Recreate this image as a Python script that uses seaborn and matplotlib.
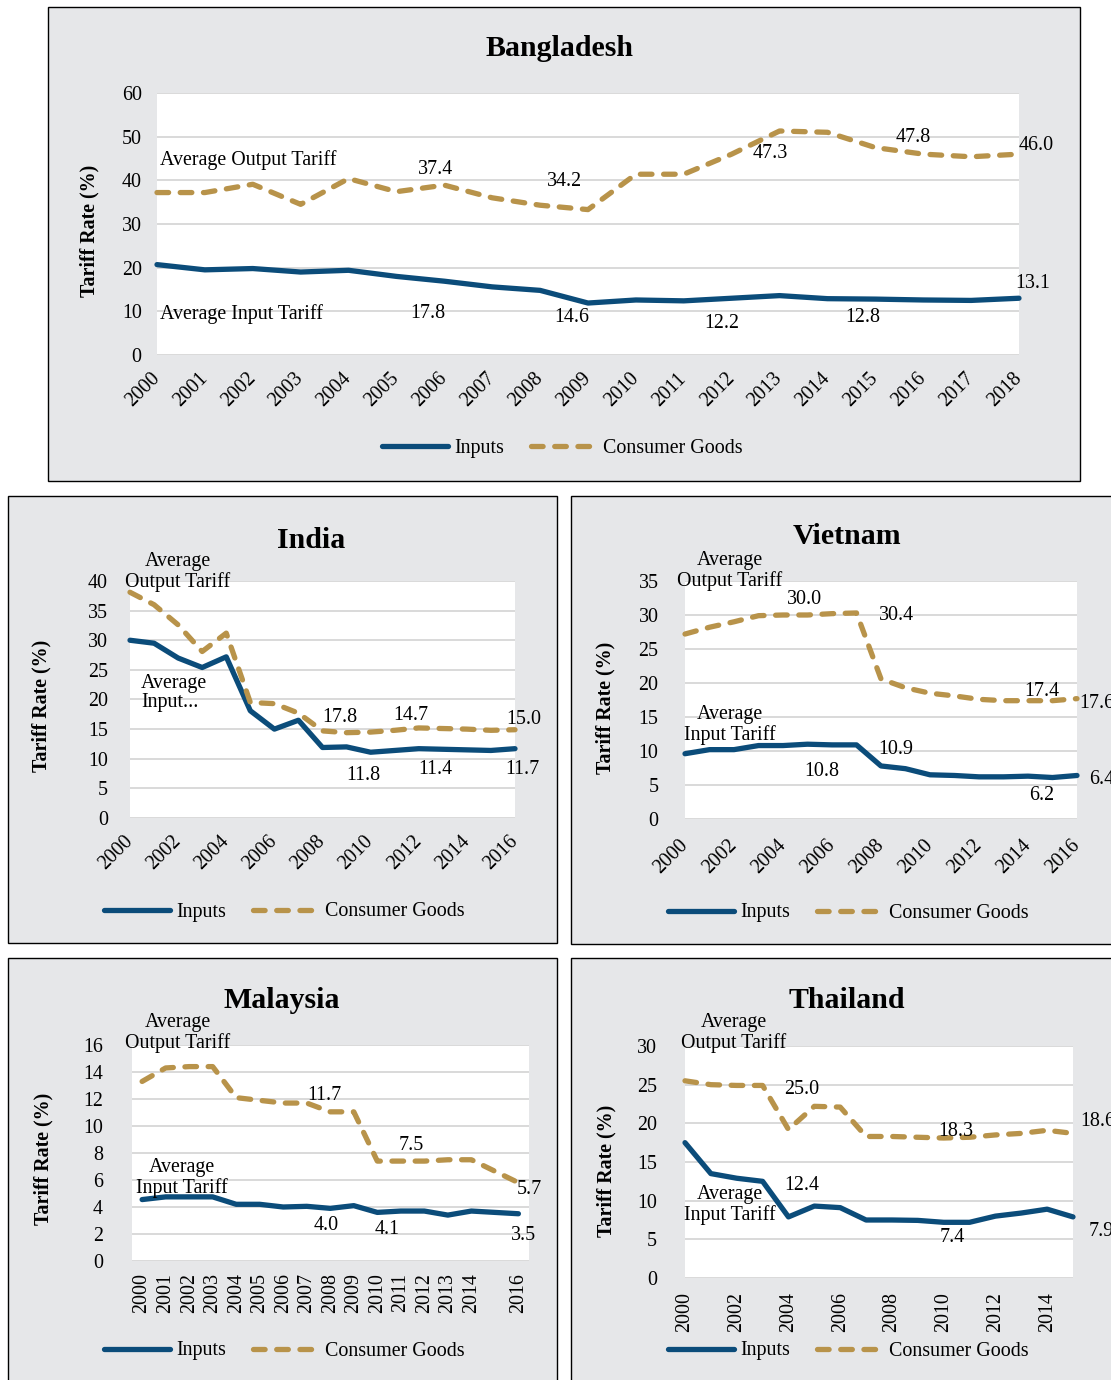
import numpy as np
import pandas as pd
import matplotlib
matplotlib.use("Agg")
import matplotlib.pyplot as plt
import seaborn as sns
from matplotlib.patches import Rectangle
from matplotlib.lines import Line2D

# ---------------- data ----------------
bd_years = list(range(2000, 2019))
bd_inputs = [20.7, 19.5, 19.8, 19.0, 19.4, 18.0, 16.9, 15.6, 14.8, 11.9,
             12.6, 12.4, 13.0, 13.6, 12.9, 12.8, 12.6, 12.5, 13.0]
bd_consumer = [37.2, 37.2, 39.1, 34.5, 40.4, 37.4, 38.9, 36.0, 34.3, 33.3,
               41.4, 41.4, 46.0, 51.3, 51.0, 47.5, 46.0, 45.4, 46.0]

in_years = list(range(2000, 2017))
in_inputs = [30.0, 29.5, 27.0, 25.4, 27.2, 18.1, 15.0, 16.5, 11.9, 12.0,
             11.1, 11.4, 11.7, 11.6, 11.5, 11.4, 11.7]
in_consumer = [38.1, 36.0, 32.6, 28.1, 31.2, 19.5, 19.3, 17.7, 14.7, 14.4,
               14.5, 14.8, 15.2, 15.1, 15.0, 14.8, 14.9]

vn_years = list(range(2000, 2017))
vn_inputs = [9.6, 10.2, 10.2, 10.8, 10.8, 11.0, 10.9, 10.9, 7.8, 7.4,
             6.5, 6.4, 6.2, 6.2, 6.3, 6.1, 6.4]
vn_consumer = [27.2, 28.2, 29.0, 29.9, 30.0, 30.0, 30.2, 30.3, 20.6, 19.3,
               18.5, 18.1, 17.6, 17.4, 17.4, 17.4, 17.7]

my_years = list(range(2000, 2015)) + [2016]
my_inputs = [4.55, 4.75, 4.75, 4.75, 4.2, 4.2, 4.0, 4.05, 3.9, 4.1,
             3.6, 3.7, 3.7, 3.4, 3.7, 3.5]
my_consumer = [13.3, 14.3, 14.4, 14.4, 12.1, 11.9, 11.7, 11.7, 11.05, 11.05,
               7.4, 7.4, 7.4, 7.5, 7.5, 5.8]

th_years = list(range(2000, 2016))
th_inputs = [17.5, 13.5, 12.9, 12.5, 7.9, 9.3, 9.1, 7.5, 7.5, 7.45,
             7.2, 7.2, 8.0, 8.4, 8.9, 7.9]
th_consumer = [25.5, 25.0, 24.9, 24.9, 19.2, 22.2, 22.1, 18.3, 18.3, 18.2,
               18.1, 18.2, 18.5, 18.7, 19.1, 18.7]

series_names = ["Inputs", "Consumer Goods"]

# ---------------- style ----------------
W, H = 1111, 1380
BLUE = "#0B4C7A"
GOLD = "#B8934A"
PANEL = "#E6E7E9"
GRID = "#D9D9D9"
FS = 14.4
TFS = 21.5
LW = 3.8
DASH = (2.2, 2.2)
TY = 3  # vertical text nudge (px)

sns.set_style("white")
plt.rcParams["font.family"] = ["Liberation Serif", "DejaVu Serif"]
plt.rcParams["text.color"] = "black"
plt.rcParams["xtick.color"] = "black"
plt.rcParams["ytick.color"] = "black"
plt.rcParams["axes.labelcolor"] = "black"


def fx(x):
    return x / W


def fy(y):
    return 1 - y / H


fig = plt.figure(figsize=(W / 100, H / 100), dpi=100)
fig.patch.set_facecolor("white")


def panel(box, title, title_xy, ax_px, years, inputs, consumer, ylim, ystep,
          xlim, xticks, xrot, xpad, ypad, ylab_xy, legend_xy, notes):
    x0, y0, x1, y1 = box
    fig.patches.append(Rectangle((fx(x0), fy(y1)), (x1 - x0) / W, (y1 - y0) / H,
                                 transform=fig.transFigure, facecolor=PANEL,
                                 edgecolor="black", linewidth=1.0, zorder=-10))
    fig.text(fx(title_xy[0]), fy(title_xy[1] + TY), title, ha="center", va="center",
             fontsize=TFS, fontweight="bold")
    l, r, t, b = ax_px
    ax = fig.add_axes([fx(l), fy(b), (r - l) / W, (b - t) / H])
    ax.set_zorder(1)
    ax.set_facecolor("white")
    n = len(years)
    df = pd.DataFrame({
        "Year": list(years) * 2,
        "Tariff": list(inputs) + list(consumer),
        "Series": [series_names[0]] * n + [series_names[1]] * n,
    })
    sns.lineplot(data=df, x="Year", y="Tariff", hue="Series", style="Series",
                 palette={series_names[0]: BLUE, series_names[1]: GOLD},
                 dashes={series_names[0]: "", series_names[1]: DASH},
                 linewidth=LW, legend=False, ax=ax, estimator=None, sort=False)
    for ln in ax.lines:
        ln.set_clip_on(False)
        ln.set_solid_capstyle("round")
        ln.set_dash_capstyle("round")
        ln.set_solid_joinstyle("round")
        ln.set_dash_joinstyle("round")
    ax.set_ylim(*ylim)
    ax.set_yticks(np.arange(ylim[0], ylim[1] + 0.001, ystep))
    ax.set_yticklabels([f"{int(v)}" for v in np.arange(ylim[0], ylim[1] + 0.001, ystep)])
    ax.set_xlim(*xlim)
    ax.set_xticks(xticks)
    ax.set_xticklabels([str(v) for v in xticks])
    ax.grid(axis="y", color=GRID, linewidth=1.4)
    ax.grid(axis="x", visible=False)
    ax.set_axisbelow(True)
    for s in ax.spines.values():
        s.set_visible(False)
    ax.set_xlabel("")
    ax.set_ylabel("")
    ax.tick_params(axis="both", length=0, labelsize=FS, colors="black")
    ax.tick_params(axis="y", pad=ypad)
    ax.tick_params(axis="x", pad=xpad)
    for lab in ax.get_xticklabels():
        if xrot == 45:
            lab.set_rotation(45)
            lab.set_ha("right")
            lab.set_va("center")
            lab.set_rotation_mode("anchor")
        else:
            lab.set_rotation(90)
            lab.set_ha("center")
            lab.set_va("top")
    fig.text(fx(ylab_xy[0]), fy(ylab_xy[1]), "Tariff Rate (%)", rotation=90,
             ha="center", va="center", fontsize=FS, fontweight="bold")
    for (s, x, y, ha) in notes:
        fig.text(fx(x), fy(y + TY), s, ha=ha, va="center", fontsize=FS,
                 multialignment="center" if ha == "center" else "left",
                 linespacing=1.05, zorder=5)
    handles = [Line2D([], [], color=BLUE, lw=LW, solid_capstyle="round"),
               Line2D([], [], color=GOLD, lw=LW, dashes=DASH, dash_capstyle="round")]
    fig.legend(handles, series_names, loc="center left",
               bbox_to_anchor=(fx(legend_xy[0]), fy(legend_xy[1] + 2)),
               ncol=2, frameon=False, fontsize=FS, handlelength=3.3,
               handletextpad=0.3, columnspacing=1.35, borderpad=0,
               borderaxespad=0)
    return ax


# Bangladesh
panel((48, 7, 1080, 481), "Bangladesh", (560, 45), (157, 1019, 93, 355),
      bd_years, bd_inputs, bd_consumer, (0, 60), 10, (2000, 2018),
      list(range(2000, 2019)), 45, 15, 11, (89, 231), (382, 447),
      [("Average Output Tariff", 160, 157, "left"),
       ("37.4", 436, 166, "center"), ("34.2", 565, 178, "center"),
       ("47.3", 770, 150, "center"), ("47.8", 913, 134, "center"),
       ("46.0", 1036, 143, "center"),
       ("Average Input Tariff", 160, 311, "left"),
       ("17.8", 428, 311, "center"), ("14.6", 572, 315, "center"),
       ("12.2", 722, 320, "center"), ("12.8", 863, 315, "center"),
       ("13.1", 1033, 281, "center")])

# India
panel((8, 496, 557, 943), "India", (311, 538), (130, 515, 581, 818),
      in_years, in_inputs, in_consumer, (0, 40), 5, (2000, 2016),
      list(range(2000, 2017, 2)), 45, 15, 16, (41, 706), (104, 910),
      [("Average\nOutput Tariff", 178, 569, "center"),
       ("Average\nInput...", 141, 690, "left"),
       ("17.8", 340, 714, "center"), ("14.7", 411, 712, "center"),
       ("15.0", 524, 717, "center"), ("11.8", 363, 772, "center"),
       ("11.4", 435, 767, "center"), ("11.7", 522, 767, "center")])

# Vietnam
panel((571, 496, 1130, 944), "Vietnam", (847, 534), (685, 1077, 581, 819),
      vn_years, vn_inputs, vn_consumer, (0, 35), 5, (2000, 2016),
      list(range(2000, 2017, 2)), 45, 17, 19, (605, 708), (668, 911),
      [("Average\nOutput Tariff", 730, 568, "center"),
       ("Average\nInput Tariff", 730, 722, "center"),
       ("30.0", 804, 597, "center"), ("30.4", 896, 613, "center"),
       ("17.4", 1042, 689, "center"), ("17.6", 1079, 701, "left"),
       ("10.9", 896, 746, "center"), ("10.8", 822, 768, "center"),
       ("6.2", 1042, 792, "center"), ("6.4", 1089, 777, "left")])

# Malaysia
panel((8, 958, 557, 1400), "Malaysia", (282, 997), (132, 529, 1045, 1261),
      my_years, my_inputs, my_consumer, (0, 16), 2, (1999.57, 2016.45),
      list(range(2000, 2015)) + [2016], 90, 8.5, 21, (43, 1159), (104, 1349),
      [("Average\nOutput Tariff", 178, 1030, "center"),
       ("Average\nInput Tariff", 182, 1175, "center"),
       ("11.7", 324, 1093, "center"), ("7.5", 411, 1143, "center"),
       ("5.7", 529, 1186, "center"), ("4.0", 326, 1222, "center"),
       ("4.1", 387, 1226, "center"), ("3.5", 523, 1233, "center")])

# Thailand
panel((571, 958, 1130, 1400), "Thailand", (847, 998), (685, 1073, 1046, 1278),
      th_years, th_inputs, th_consumer, (0, 30), 5, (2000, 2015),
      list(range(2000, 2015, 2)), 90, 10, 20, (606, 1171), (668, 1349),
      [("Average\nOutput Tariff", 734, 1030, "center"),
       ("Average\nInput Tariff", 730, 1202, "center"),
       ("25.0", 802, 1086, "center"), ("18.3", 956, 1128, "center"),
       ("18.6", 1080, 1118, "left"), ("12.4", 802, 1183, "center"),
       ("7.4", 952, 1234, "center"), ("7.9", 1089, 1229, "left")])

fig.savefig("out.png", dpi=100, facecolor="white")
